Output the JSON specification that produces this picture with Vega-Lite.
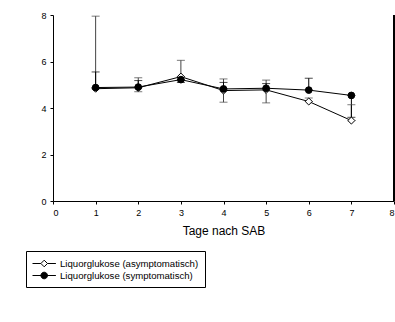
{
  "$schema": "https://vega.github.io/schema/vega-lite/v6.json",
  "width": 341,
  "height": 186,
  "autosize": {"type": "none"},
  "padding": {"left": 53, "top": 15, "right": 1, "bottom": 121},
  "background": "white",
  "config": {
    "view": {"stroke": null},
    "font": "Liberation Sans",
    "axis": {"domainColor": "black", "tickColor": "black", "labelColor": "black", "titleColor": "black", "grid": false, "labelFont": "Liberation Sans", "titleFont": "Liberation Sans", "labelFontSize": 9, "titleFontSize": 12, "titleFontWeight": "normal", "tickSize": 3}
  },
  "data": {
    "values": [
      {"day": 1, "series": "Liquorglukose (asymptomatisch)", "value": 4.83, "lo": 4.83, "hi": 7.95},
      {"day": 2, "series": "Liquorglukose (asymptomatisch)", "value": 4.87, "lo": 4.7, "hi": 5.3},
      {"day": 3, "series": "Liquorglukose (asymptomatisch)", "value": 5.35, "lo": 5.35, "hi": 6.05},
      {"day": 4, "series": "Liquorglukose (asymptomatisch)", "value": 4.75, "lo": 4.25, "hi": 5.25},
      {"day": 5, "series": "Liquorglukose (asymptomatisch)", "value": 4.78, "lo": 4.22, "hi": 5.2},
      {"day": 6, "series": "Liquorglukose (asymptomatisch)", "value": 4.28, "lo": 4.28, "hi": 4.43},
      {"day": 7, "series": "Liquorglukose (asymptomatisch)", "value": 3.46, "lo": 3.46, "hi": 4.14},
      {"day": 1, "series": "Liquorglukose (symptomatisch)", "value": 4.88, "lo": 4.88, "hi": 5.55},
      {"day": 2, "series": "Liquorglukose (symptomatisch)", "value": 4.9, "lo": 4.9, "hi": 5.18},
      {"day": 3, "series": "Liquorglukose (symptomatisch)", "value": 5.22, "lo": 5.1, "hi": 5.22},
      {"day": 4, "series": "Liquorglukose (symptomatisch)", "value": 4.82, "lo": 4.82, "hi": 5.1},
      {"day": 5, "series": "Liquorglukose (symptomatisch)", "value": 4.85, "lo": 4.85, "hi": 5.05},
      {"day": 6, "series": "Liquorglukose (symptomatisch)", "value": 4.77, "lo": 4.77, "hi": 5.28},
      {"day": 7, "series": "Liquorglukose (symptomatisch)", "value": 4.54, "lo": 3.6, "hi": 4.54}
    ]
  },
  "encoding": {
    "x": {"field": "day", "type": "quantitative", "scale": {"domain": [0, 8], "nice": false}, "axis": {"title": "Tage nach SAB", "values": [0,1,2,3,4,5,6,7,8], "labelPadding": 4, "titlePadding": 8, "tickSize": 3}}
  },
  "layer": [
    {
      "mark": {"type": "rule", "color": "black", "strokeWidth": 1},
      "encoding": {"x": {"datum": 8}}
    },
    {
      "mark": {"type": "rule", "strokeWidth": 1},
      "encoding": {
        "y": {"field": "lo", "type": "quantitative", "scale": {"domain": [0, 8], "nice": false}, "axis": {"title": null, "values": [0,2,4,6,8], "labelPadding": 4}},
        "y2": {"field": "hi"},
        "color": {"field": "series", "type": "nominal", "scale": {"range": ["#444444", "black"]}, "legend": null}
      }
    },
    {
      "mark": {"type": "point", "shape": "stroke", "size": 64, "strokeWidth": 1},
      "encoding": {
        "y": {"field": "hi", "type": "quantitative"},
        "color": {"field": "series", "type": "nominal", "legend": null}
      }
    },
    {
      "mark": {"type": "point", "shape": "stroke", "size": 64, "strokeWidth": 1},
      "encoding": {
        "y": {"field": "lo", "type": "quantitative"},
        "color": {"field": "series", "type": "nominal", "legend": null}
      }
    },
    {
      "mark": {"type": "line", "color": "black", "strokeWidth": 1},
      "encoding": {
        "y": {"field": "value", "type": "quantitative"},
        "detail": {"field": "series", "type": "nominal"}
      }
    },
    {
      "mark": {"type": "point", "filled": false, "stroke": "black", "strokeWidth": 1, "size": 40, "opacity": 0},
      "encoding": {
        "y": {"field": "value", "type": "quantitative"},
        "shape": {"field": "series", "type": "nominal", "scale": {"range": ["M-1,0H0.4M1.5,0H2.9M0.95,-0.55L1.5,0L0.95,0.55L0.4,0Z", "M-1,0H2.9M1.5,0A0.55,0.55 0 1,1 0.4,0A0.55,0.55 0 1,1 1.5,0"]}, "legend": {
          "title": null, "orient": "none", "legendX": -27, "legendY": 236,
          "strokeColor": "black", "padding": 6, "labelFontSize": 9.6, "labelFont": "Liberation Sans", "labelColor": "black",
          "symbolSize": 144, "symbolStrokeColor": "black", "symbolStrokeWidth": 1, "symbolOpacity": 1, "rowPadding": 0, "labelOffset": 15,
          "encoding": {"symbols": {"stroke": {"value": "black"}, "strokeWidth": {"value": 1}, "opacity": {"value": 1}}}
        }},
        "fill": {"field": "series", "type": "nominal", "scale": {"range": ["white", "black"]}}
      }
    },
    {
      "transform": [{"filter": "indexof(datum.series, 'asympt') >= 0"}],
      "mark": {"type": "point", "shape": "diamond", "filled": true, "fill": "white", "stroke": "black", "strokeWidth": 1, "size": 50, "opacity": 1},
      "encoding": {
        "y": {"field": "value", "type": "quantitative"}
      }
    },
    {
      "transform": [{"filter": "indexof(datum.series, 'asympt') < 0"}],
      "mark": {"type": "point", "shape": "circle", "filled": true, "fill": "black", "stroke": "black", "strokeWidth": 1, "size": 45, "opacity": 1},
      "encoding": {
        "y": {"field": "value", "type": "quantitative"}
      }
    }
  ]
}
